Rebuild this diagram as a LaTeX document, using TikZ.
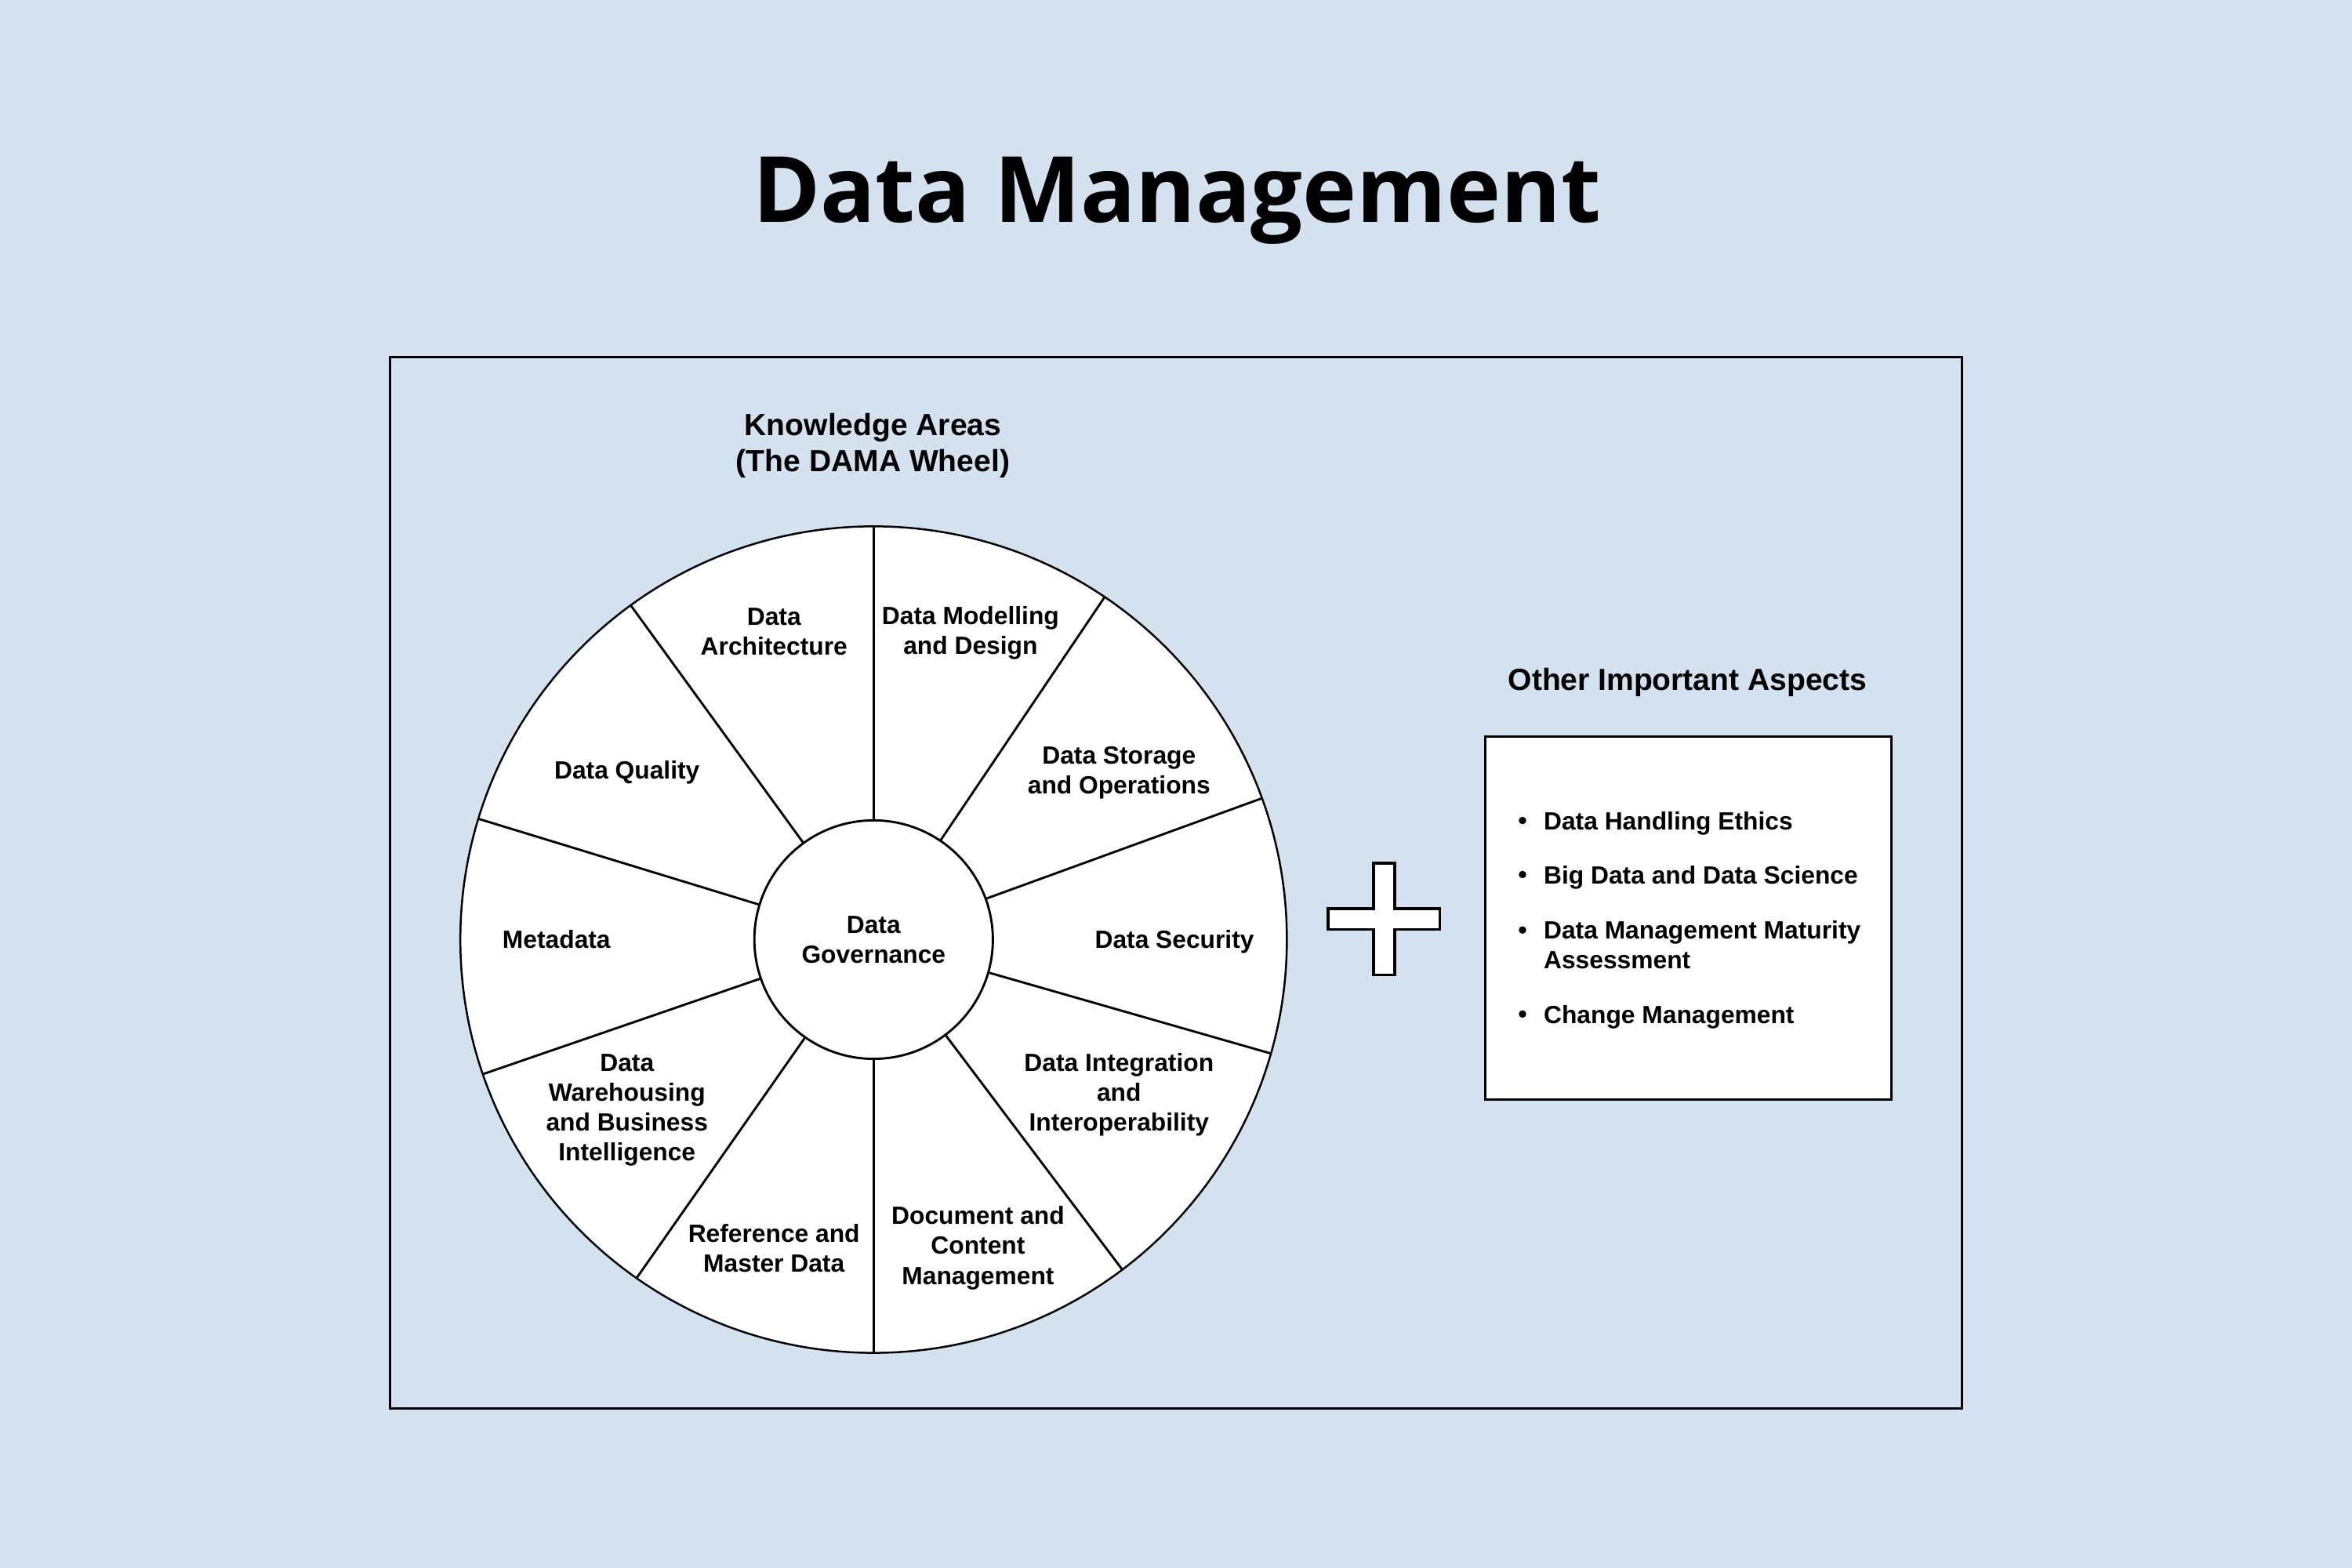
\documentclass[tikz,border=0pt]{standalone}
\usepackage{fontspec}
\setmainfont{Liberation Sans}
\newfontfamily\titlefont{Open Sans}
\definecolor{bg}{RGB}{212,225,238}
\begin{document}
\begin{tikzpicture}[x=1pt,y=-1pt,
  lbl/.style={font=\fontsize{16.6}{19.9}\selectfont\bfseries, align=center, inner sep=0pt},
  head/.style={font=\fontsize{20.4}{24}\selectfont\bfseries, align=center, inner sep=0pt},
  item/.style={font=\fontsize{16.6}{19.9}\selectfont\bfseries, align=left, anchor=west, inner sep=0pt},
  ring/.style={circle, draw, fill=white, inner sep=0pt, outer sep=0pt},
  spoke/.style={line width=1.5pt}]
\useasboundingbox (0,0) rectangle (1568,1045.33);
\fill[bg] (0,0) rectangle (1568,1045.33);

% title
\node[font=\titlefont\bfseries\fontsize{61}{72}\selectfont, anchor=base, inner sep=0pt] (title) at (784.5,148) {Data Management};

% frame
\draw[line width=1.5pt] (260,238) rectangle (1308,939);

% heading
\node[head] (kahead) at (582,297) {Knowledge Areas\\(The DAMA Wheel)};

% wheel
\node[ring, line width=1.3pt, minimum size=551pt] (wheel) at (582.4,626.4) {};
\node[ring, line width=1.5pt, minimum size=159pt, lbl] (gov) at (582.4,626.4) {Data\\Governance};
\foreach \a in {90,56,20.5,-16.8,-53,-90,-125.5,-161.5,163,126}
  \draw[spoke] (gov.\a) -- (wheel.\a);

% segment labels
\node[lbl] (arch) at (516,421) {Data\\Architecture};
\node[lbl] (model) at (647,422) {Data Modelling\\and Design};
\node[lbl] (storage) at (746,515) {Data Storage\\and Operations};
\node[lbl] (security) at (783,628) {Data Security};
\node[lbl] (integ) at (746,730) {Data Integration\\and\\Interoperability};
\node[lbl] (doc) at (652,832) {Document and\\Content\\Management};
\node[lbl] (ref) at (516,832) {Reference and\\Master Data};
\node[lbl] (dw) at (418,740) {Data\\Warehousing\\and Business\\Intelligence};
\node[lbl] (meta) at (371,626) {Metadata};
\node[lbl] (quality) at (418,515) {Data Quality};

% plus sign
\begin{scope}[shift={(922.7,612.7)}]
\draw[line width=1.8pt, fill=white, line join=miter]
  (-7,-37.2) -- (7,-37.2) -- (7,-7) -- (37.2,-7) -- (37.2,7) -- (7,7) -- (7,37.2)
  -- (-7,37.2) -- (-7,7) -- (-37.2,7) -- (-37.2,-7) -- (-7,-7) -- cycle;
\end{scope}

% other aspects
\node[head] (ohead) at (1125,455) {Other Important Aspects};
\node[draw, fill=white, line width=1.5pt, minimum width=271pt, minimum height=242pt, inner sep=0pt] (aspects) at (1125.5,612) {};
\foreach \y in {547,583,620,676} \fill (1015,\y) circle (2.5pt);
\node[item] (i1) at (1029,549) {Data Handling Ethics};
\node[item] (i2) at (1029,585) {Big Data and Data Science};
\node[item] (i3) at (1029,630) {Data Management Maturity\\Assessment};
\node[item] (i4) at (1029,678) {Change Management};
\end{tikzpicture}
\end{document}
